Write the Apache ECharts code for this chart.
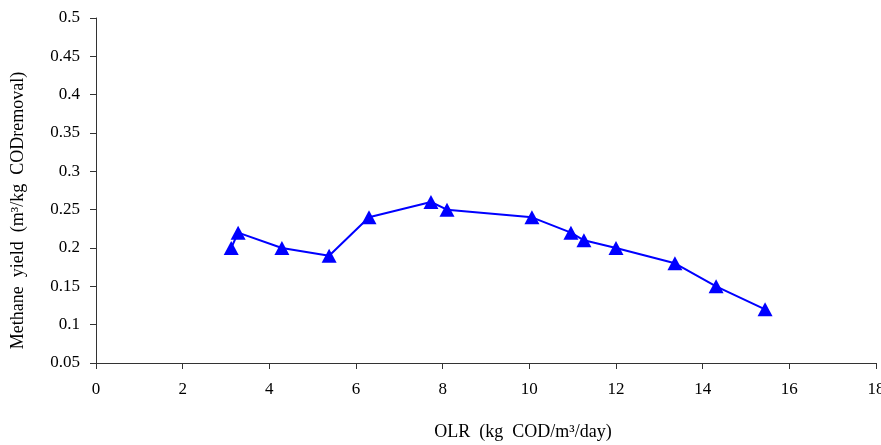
<!DOCTYPE html>
<html>
<head>
<meta charset="utf-8">
<script src="https://cdn.jsdelivr.net/npm/echarts@6/dist/echarts.min.js"></script>
<style>
  html, body { margin: 0; padding: 0; background: #fff; }
  #chart { width: 881px; height: 445px; }
</style>
</head>
<body>
<div id="chart"></div>
<script>
// OLR (kg COD/m3/day) vs methane yield
var olr = [3.12, 3.28, 4.29, 5.38, 6.3, 7.73, 8.1, 10.06, 10.96, 11.26, 12.0, 13.36, 14.31, 15.44];
var methaneYield = [0.2, 0.22, 0.2, 0.19, 0.24, 0.26, 0.25, 0.24, 0.22, 0.21, 0.2, 0.18, 0.15, 0.12];

var points = olr.map(function (x, i) { return [x, methaneYield[i]]; });

var font = 'Liberation Serif, Times New Roman, serif';
var axisColor = '#333';

var chart = echarts.init(document.getElementById('chart'));
chart.setOption({
  animation: false,
  backgroundColor: '#fff',
  grid: { left: 96, right: 5, top: 18, bottom: 82, outerBoundsMode: 'none' },
  xAxis: {
    type: 'value',
    min: 0,
    max: 18,
    interval: 2,
    name: 'OLR  (kg  COD/m³/day)',
    nameLocation: 'middle',
    nameGap: 60,
    nameTextStyle: { fontFamily: font, fontSize: 18, color: '#000', padding: [0, 0, 0, 74] },
    axisLine: { lineStyle: { color: axisColor, width: 1 } },
    axisTick: { length: 6, lineStyle: { color: axisColor } },
    axisLabel: { fontFamily: font, fontSize: 17, color: '#000', margin: 18 },
    splitLine: { show: false }
  },
  yAxis: {
    type: 'value',
    min: 0.05,
    max: 0.5,
    interval: 0.05,
    name: 'Methane  yield  (m³/kg  CODremoval)',
    nameLocation: 'middle',
    nameGap: 69,
    nameTextStyle: { fontFamily: font, fontSize: 18, color: '#000', padding: [0, 40, 0, 0] },
    axisLine: { show: true, lineStyle: { color: axisColor, width: 1 } },
    axisTick: { show: true, length: 6, lineStyle: { color: axisColor } },
    axisLabel: {
      fontFamily: font, fontSize: 17, color: '#000', margin: 16,
      formatter: function (v) { return String(parseFloat(v.toFixed(2))); }
    },
    splitLine: { show: false }
  },
  series: [{
    type: 'line',
    data: points,
    symbol: 'triangle',
    symbolSize: [15, 14],
    lineStyle: { color: '#0000ff', width: 2 },
    itemStyle: { color: '#0000ff' }
  }]
});
</script>
</body>
</html>
